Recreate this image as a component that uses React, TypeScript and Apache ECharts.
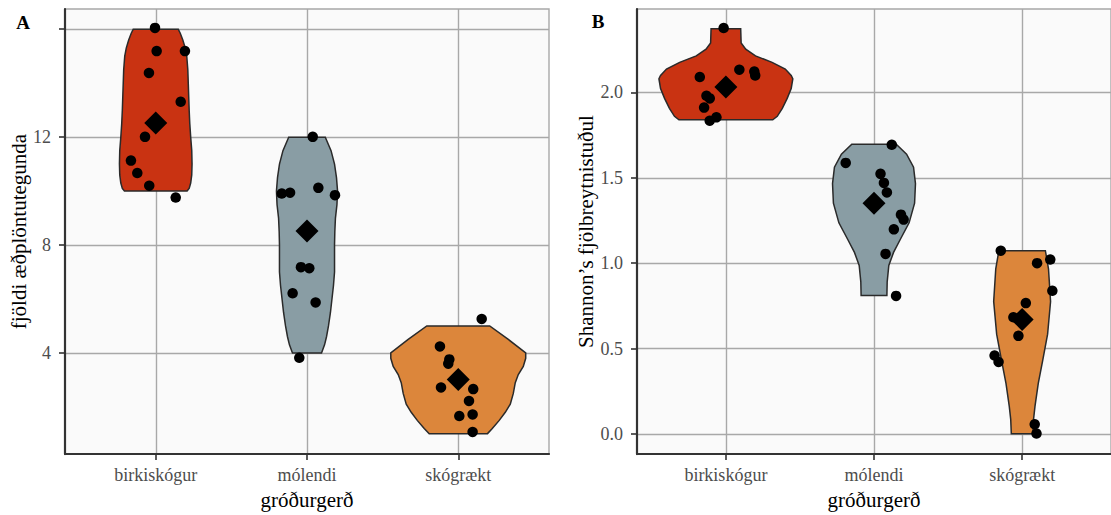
import React, { useEffect, useRef } from "react";
import * as echarts from "echarts";

// ---------- data ----------
const categories = ["birkiskógur", "mólendi", "skógrækt"];

// Panel A: fjöldi æðplöntutegunda (jittered observations)
const aBirkiValues = [16.05, 15.19, 15.19, 14.38, 13.31, 12.01, 11.13, 10.67, 10.2, 9.76];
const aBirkiJitter = [-0.005, 0.006, 0.193, -0.045, 0.165, -0.071, -0.164, -0.122, -0.043, 0.132];
const aMolValues = [12.01, 9.91, 9.94, 10.12, 9.85, 7.18, 7.14, 6.21, 5.87, 3.82];
const aMolJitter = [0.038, -0.167, -0.112, 0.075, 0.185, -0.04, 0.015, -0.095, 0.057, -0.051];
const aSkogValues = [5.26, 4.24, 3.76, 3.6, 2.72, 2.66, 2.22, 1.66, 1.72, 1.07];
const aSkogJitter = [0.155, -0.121, -0.059, -0.066, -0.114, 0.099, 0.071, 0.007, 0.095, 0.095];
const aMeans = [12.52, 8.52, 3.02];

// Panel A violin outlines: levels and half-widths (in category units)
const aBirkiLevels = [10.0, 10.1, 10.3, 10.6, 11.0, 11.5, 12.0, 12.5, 13.0, 13.5, 14.0, 14.5, 15.0, 15.3, 15.6, 15.85, 16.0];
const aBirkiWidths = [0.207, 0.221, 0.231, 0.238, 0.24, 0.238, 0.231, 0.225, 0.221, 0.218, 0.215, 0.212, 0.205, 0.195, 0.179, 0.162, 0.149];
const aMolLevels = [4.0, 4.3, 4.6, 5.0, 5.5, 6.0, 6.5, 7.0, 7.5, 8.0, 8.5, 9.0, 9.5, 10.0, 10.5, 11.0, 11.5, 12.0];
const aMolWidths = [0.096, 0.116, 0.129, 0.142, 0.155, 0.165, 0.175, 0.182, 0.182, 0.182, 0.184, 0.188, 0.198, 0.202, 0.195, 0.182, 0.159, 0.121];
const aSkogLevels = [1.0, 1.2, 1.5, 1.8, 2.1, 2.5, 2.9, 3.2, 3.5, 3.8, 4.0, 4.5, 5.0];
const aSkogWidths = [0.192, 0.225, 0.271, 0.311, 0.344, 0.364, 0.377, 0.397, 0.43, 0.446, 0.446, 0.331, 0.208];

// Panel B: Shannon's fjölbreytnistuðull
const bBirkiValues = [2.377, 2.09, 2.133, 2.122, 2.099, 1.98, 1.965, 1.911, 1.834, 1.854];
const bBirkiJitter = [-0.015, -0.176, 0.091, 0.192, 0.198, -0.131, -0.109, -0.147, -0.109, -0.064];
const bMolValues = [1.693, 1.587, 1.523, 1.47, 1.414, 1.284, 1.255, 1.198, 1.054, 0.808];
const bMolJitter = [0.12, -0.191, 0.044, 0.067, 0.087, 0.182, 0.2, 0.134, 0.078, 0.149];
const bSkogValues = [1.073, 1.0, 1.021, 0.838, 0.766, 0.683, 0.574, 0.459, 0.421, 0.056, 0.002];
const bSkogJitter = [-0.144, 0.101, 0.19, 0.204, 0.025, -0.059, -0.025, -0.186, -0.159, 0.085, 0.097];
const bMeans = [2.032, 1.351, 0.67];

const bBirkiLevels = [1.84, 1.86, 1.907, 1.965, 2.022, 2.08, 2.099, 2.137, 2.176, 2.214, 2.253, 2.29, 2.373];
const bBirkiWidths = [0.317, 0.347, 0.381, 0.414, 0.441, 0.452, 0.441, 0.401, 0.312, 0.2, 0.134, 0.103, 0.1];
const bMolLevels = [0.81, 0.89, 0.986, 1.063, 1.14, 1.236, 1.351, 1.466, 1.562, 1.638, 1.696];
const bMolWidths = [0.087, 0.089, 0.1, 0.132, 0.178, 0.237, 0.274, 0.28, 0.267, 0.22, 0.15];
const bSkogLevels = [0.0, 0.085, 0.162, 0.296, 0.43, 0.584, 0.775, 0.967, 1.073];
const bSkogWidths = [0.073, 0.077, 0.087, 0.109, 0.139, 0.172, 0.192, 0.178, 0.157];

const aTicks = [4, 8, 12, 16];
const aLabels = [4, 8, 12];
const bTicks = [0, 0.5, 1.0, 1.5, 2.0];

// ---------- styling ----------
const FILLS = ["#C93312", "#899DA4", "#DC863B"];
const SERIF = '"Liberation Serif", "Times New Roman", serif';
const GRID_COLOR = "#A8A8A8";
const AXIS_COLOR = "#333333";
const LABEL_COLOR = "#4D4D4D";

function pts(values: number[], jitter: number[], cat: number) {
  return values.map((v, i) => [cat + jitter[i], v]);
}

function violinSeries(idx: number, levels: number[][], widths: number[][], means: number[]) {
  return {
    type: "custom",
    xAxisIndex: idx,
    yAxisIndex: idx,
    z: 2,
    silent: true,
    data: means.map((m, i) => [i + 1, m]),
    renderItem: (params: any, api: any) => {
      const i = params.dataIndex;
      const lv = levels[i];
      const wd = widths[i];
      const c = i + 1;
      const points: number[][] = [];
      for (let k = 0; k < lv.length; k++) points.push(api.coord([c + wd[k], lv[k]]));
      for (let k = lv.length - 1; k >= 0; k--) points.push(api.coord([c - wd[k], lv[k]]));
      return {
        type: "polygon",
        shape: { points },
        style: { fill: FILLS[i], stroke: "#2A2A2A", lineWidth: 1.5 },
      };
    },
  };
}

function xAxis(idx: number) {
  return {
    type: "value",
    gridIndex: idx,
    min: 0.4,
    max: 3.6,
    axisLine: { show: true, onZero: false, lineStyle: { color: AXIS_COLOR, width: 2.2 } },
    axisTick: { show: true, customValues: [1, 2, 3], length: 6, lineStyle: { color: AXIS_COLOR, width: 1.6 } },
    axisLabel: {
      customValues: [1, 2, 3],
      formatter: (v: number) => categories[Math.round(v) - 1] ?? "",
      color: LABEL_COLOR,
      fontFamily: SERIF,
      fontSize: 18,
      margin: 12,
    },
    splitLine: { show: true, lineStyle: { color: GRID_COLOR, width: 1.4 } },
    name: "gróðurgerð",
    nameLocation: "middle",
    nameGap: 30,
    nameTextStyle: { color: "#000", fontFamily: SERIF, fontSize: 21 },
  };
}

function yAxis(idx: number, min: number, max: number, ticks: number[], labels: number[], name: string, gap: number, fmt: (v: number) => string) {
  return {
    type: "value",
    gridIndex: idx,
    min,
    max,
    axisLine: { show: true, onZero: false, lineStyle: { color: AXIS_COLOR, width: 2.2 } },
    axisTick: { show: true, customValues: ticks, length: 6, lineStyle: { color: AXIS_COLOR, width: 1.6 } },
    axisLabel: {
      customValues: labels,
      formatter: fmt,
      color: LABEL_COLOR,
      fontFamily: SERIF,
      fontSize: 18,
      margin: 14,
    },
    splitLine: { show: true, lineStyle: { color: GRID_COLOR, width: 1.4 } },
    name,
    nameLocation: "middle",
    nameGap: gap,
    nameTextStyle: { color: "#000", fontFamily: SERIF, fontSize: 21 },
  };
}

function scatter(idx: number, data: number[][]) {
  return {
    type: "scatter",
    xAxisIndex: idx,
    yAxisIndex: idx,
    z: 3,
    silent: true,
    symbol: "circle",
    symbolSize: 10.5,
    itemStyle: { color: "#000", opacity: 1 },
    data,
  };
}

function meanSeries(idx: number, means: number[]) {
  return {
    type: "scatter",
    xAxisIndex: idx,
    yAxisIndex: idx,
    z: 4,
    silent: true,
    symbol: "diamond",
    symbolSize: 23,
    itemStyle: { color: "#000", opacity: 1 },
    data: means.map((m, i) => [i + 1, m]),
  };
}

export default function App() {
  const ref = useRef<HTMLDivElement>(null);
  useEffect(() => {
    if (!ref.current) return;
    const chart = echarts.init(ref.current, undefined, { renderer: "svg" });
    const aPoints = [
      ...pts(aBirkiValues, aBirkiJitter, 1),
      ...pts(aMolValues, aMolJitter, 2),
      ...pts(aSkogValues, aSkogJitter, 3),
    ];
    const bPoints = [
      ...pts(bBirkiValues, bBirkiJitter, 1),
      ...pts(bMolValues, bMolJitter, 2),
      ...pts(bSkogValues, bSkogJitter, 3),
    ];
    chart.setOption({
      animation: false,
      backgroundColor: "#FFFFFF",
      grid: [
        { left: 65, top: 9, width: 484, height: 453, show: true, backgroundColor: "#FAFAFA", borderColor: GRID_COLOR, borderWidth: 1.4 },
        { left: 637, top: 9, width: 478, height: 453, show: true, backgroundColor: "#FAFAFA", borderColor: GRID_COLOR, borderWidth: 1.4 },
      ],
      xAxis: [xAxis(0), xAxis(1)],
      yAxis: [
        yAxis(0, 0.25, 16.75, aTicks, aLabels, "fjöldi æðplöntutegunda", 36, (v) => String(v)),
        yAxis(1, -0.1185, 2.4885, bTicks, bTicks, "Shannon’s fjölbreytnistuðul", 40, (v) => v.toFixed(1)),
      ],
      graphic: [
        { type: "text", x: 23, y: 22, style: { text: "A", font: `bold 19px ${SERIF}`, fill: "#000", textAlign: "center", textVerticalAlign: "middle" } },
        { type: "text", x: 598, y: 21, style: { text: "B", font: `bold 19px ${SERIF}`, fill: "#000", textAlign: "center", textVerticalAlign: "middle" } },
      ],
      series: [
        violinSeries(0, [aBirkiLevels, aMolLevels, aSkogLevels], [aBirkiWidths, aMolWidths, aSkogWidths], aMeans),
        scatter(0, aPoints),
        meanSeries(0, aMeans),
        violinSeries(1, [bBirkiLevels, bMolLevels, bSkogLevels], [bBirkiWidths, bMolWidths, bSkogWidths], bMeans),
        scatter(1, bPoints),
        meanSeries(1, bMeans),
      ],
    });
    return () => chart.dispose();
  }, []);
  return (
    <div
      ref={ref}
      style={{ position: "absolute", left: 0, top: 0, width: 1111, height: 515, background: "#fff" }}
    />
  );
}
